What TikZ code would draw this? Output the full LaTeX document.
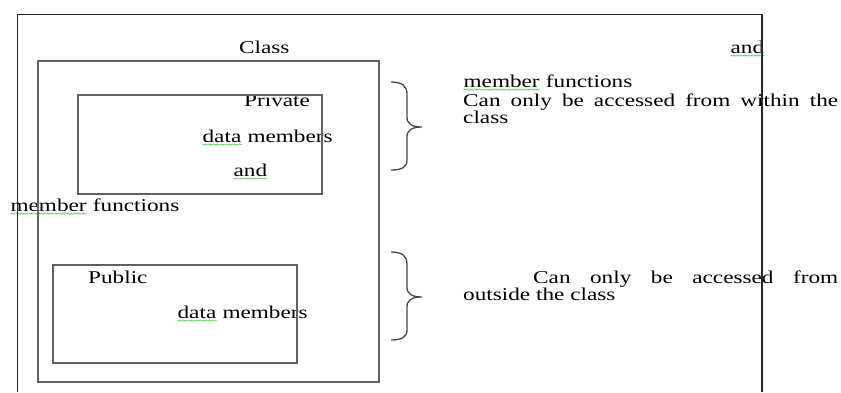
\documentclass[tikz,border=0pt]{standalone}
\usepackage{fontspec}
\setmainfont[FakeStretch=1.29]{Liberation Serif}
\usetikzlibrary{decorations.pathmorphing}

\tikzset{
  frame/.style={draw=black!85, line width=1.1pt},
  box/.style={draw=black!62, line width=1.4pt},
  txt/.style={inner sep=0pt, anchor=base west, text=black,
    font=\fontsize{18}{18}\selectfont},
  squiggle/.style={draw=green!50!gray, line width=0.45pt, decorate,
    decoration={snake, amplitude=0.7pt, segment length=2.6pt}},
  bracepath/.style={draw=black!72, line width=1.3pt},
  curly/.pic={
    \draw[bracepath] (391,82) .. controls (402,82) and (407,86) .. (407,94)
      -- (407,117) .. controls (407,124) and (412,127) .. (422,127)
      .. controls (412,127) and (407,130) .. (407,137)
      -- (407,160) .. controls (407,167) and (402,170) .. (391,170);
  }
}

% word with a wavy spell-check underline
\newcommand\squig[1]{\tikz[baseline=(w.base)]{\node[inner sep=0pt](w){#1};%
  \draw[squiggle]([yshift=-2.6pt]w.base west)--([yshift=-2.6pt]w.base east);}}

\begin{document}
\begin{tikzpicture}[x=1pt,y=-1pt]
\useasboundingbox (0,0) rectangle (841,392);
\fill[white] (0,0) rectangle (841,392);

% labels inside the class box
\node[txt] (cls)   at (239,53)  {Class};
\node[txt] (priv)  at (244,106) {Private};
\node[txt] (pdm)   at (202,142) {\squig{data} members};
\node[txt] (pand)  at (233,176) {\squig{and}};
\node[txt] (pmf)   at (10,211)  {\squig{member} functions};
\node[txt] (pub)   at (88,283)  {Public};
\node[txt] (udm)   at (177,318) {\squig{data} members};

% explanatory text on the right
\node[txt] (rand)  at (730,53)  {\squig{and}};
\node[txt] (rmf)   at (463,87)  {\squig{member} functions};
\node[txt] (rin1)  at (463,106) {\makebox[375pt][s]{Can only be accessed from within the}};
\node[txt] (rin2)  at (463,123) {class};
\node[txt] (rout1) at (533,283) {\makebox[305pt][s]{Can only be accessed from}};
\node[txt] (rout2) at (463,300) {outside the class};

% page frame
\coordinate (fbl) at (17.5,392);
\coordinate (ftl) at (17.5,14.5);
\coordinate (ftr) at (762,14.5);
\coordinate (fbr) at (762,392);
\draw[frame] (fbl) -- (ftl) -- (ftr) -- (fbr);

% class box and its two sections
\draw[box] (38,61) rectangle (379,382);
\draw[box] (78,95) rectangle (322,194);
\draw[box] (53,265) rectangle (297,363);

% braces
\pic at (0,0) {curly};
\pic at (0,170) {curly};
\end{tikzpicture}
\end{document}
